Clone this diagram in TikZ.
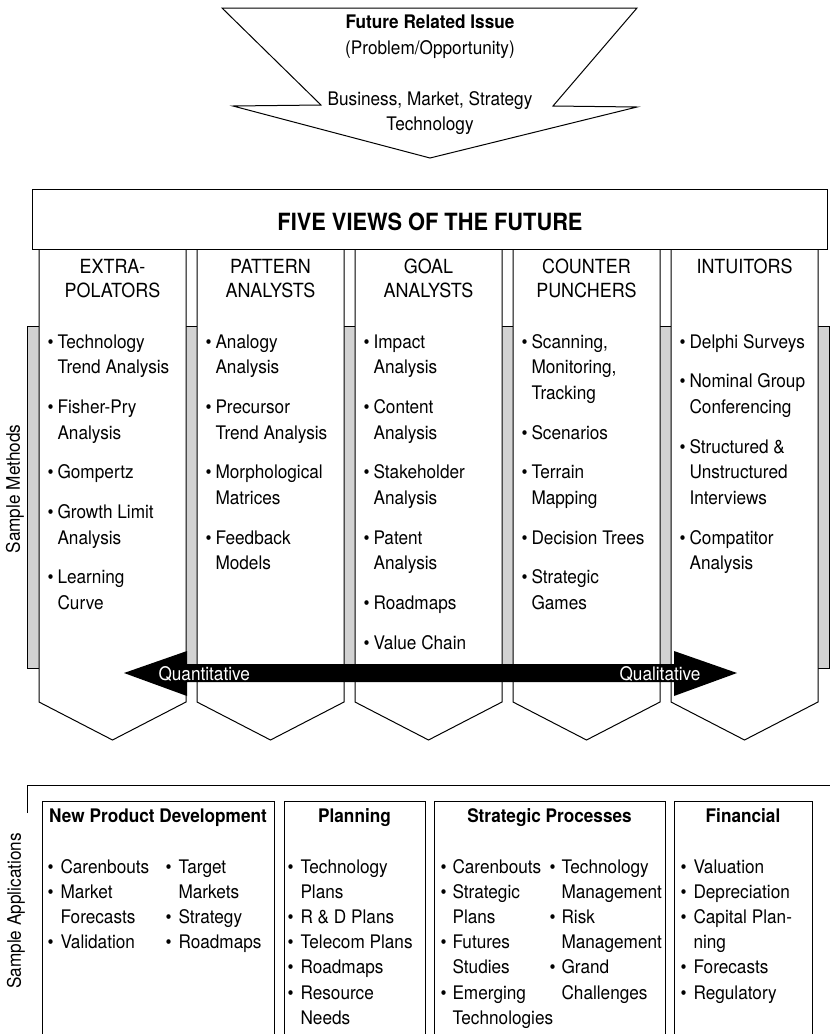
\documentclass[tikz,border=0pt]{standalone}
\usepackage{fontspec}
\setmainfont[FakeStretch=0.92]{TeX Gyre Heros}

\tikzset{
    colshape/.style={draw,fill=white},
    headtxt/.style={anchor=base,font=\fontsize{19.5}{24}\selectfont},
    methodlist/.style={anchor=base west,font=\fontsize{18.7}{25.7}\selectfont},
    applist/.style={anchor=base west,font=\fontsize{18.7}{25.2}\selectfont},
    boxhead/.style={anchor=base,font=\bfseries\fontsize{18.7}{22}\selectfont},
    sidetxt/.style={rotate=90,font=\fontsize{18.7}{22}\selectfont}
}

\begin{document}
\begin{tikzpicture}[x=1pt,y=-1pt,line width=1pt,
        every node/.style={inner sep=0pt,font=\fontsize{18.7}{25.7}\selectfont}]
        \useasboundingbox (0,0) rectangle (830,1034);

        \draw (222,8) -- (637,8) -- (553,106) -- (637,107) -- (430,158) -- (233,106) -- (321,105) -- cycle;
        \node[anchor=base,font=\bfseries\fontsize{18.7}{22}\selectfont] (issue) at (430,28) {Future Related Issue};
        \node[anchor=base] (problem) at (430,54) {(Problem/Opportunity)};
        \node[anchor=base] (business) at (430,105) {Business, Market, Strategy};
        \node[anchor=base] (techno) at (430,130) {Technology};

        \draw[fill=gray!35,line width=0.8pt] (27,326) rectangle (829,668);
        \node[sidetxt] (methods) at (15,489) {Sample Methods};

        \begin{scope}
        \draw[colshape] (39,249) -- (39,702) -- (112.5,740) -- (186,702) -- (186,249) -- cycle;
        \node[headtxt] (extraHead) at (112.5,273) {\begin{tabular}[t]{@{}c@{}}EXTRA-\\POLATORS\end{tabular}};
        \node[methodlist] (extraList) at (47,348) {\begin{tabular}[t]{@{}l@{\hspace{4pt}}l@{}}
            \textbullet & Technology\\ & Trend Analysis\\[14pt]
            \textbullet & Fisher-Pry\\ & Analysis\\[14pt]
            \textbullet & Gompertz\\[14pt]
            \textbullet & Growth Limit\\ & Analysis\\[14pt]
            \textbullet & Learning\\ & Curve
        \end{tabular}};
        \end{scope}

        \begin{scope}[xshift=158]
        \draw[colshape] (39,249) -- (39,702) -- (112.5,740) -- (186,702) -- (186,249) -- cycle;
        \node[headtxt] (patternHead) at (112.5,273) {\begin{tabular}[t]{@{}c@{}}PATTERN\\ANALYSTS\end{tabular}};
        \node[methodlist] (patternList) at (47,348) {\begin{tabular}[t]{@{}l@{\hspace{4pt}}l@{}}
            \textbullet & Analogy\\ & Analysis\\[14pt]
            \textbullet & Precursor\\ & Trend Analysis\\[14pt]
            \textbullet & Morphological\\ & Matrices\\[14pt]
            \textbullet & Feedback\\ & Models
        \end{tabular}};
        \end{scope}

        \begin{scope}[xshift=316]
        \draw[colshape] (39,249) -- (39,702) -- (112.5,740) -- (186,702) -- (186,249) -- cycle;
        \node[headtxt] (goalHead) at (112.5,273) {\begin{tabular}[t]{@{}c@{}}GOAL\\ANALYSTS\end{tabular}};
        \node[methodlist] (goalList) at (47,348) {\begin{tabular}[t]{@{}l@{\hspace{4pt}}l@{}}
            \textbullet & Impact\\ & Analysis\\[14pt]
            \textbullet & Content\\ & Analysis\\[14pt]
            \textbullet & Stakeholder\\ & Analysis\\[14pt]
            \textbullet & Patent\\ & Analysis\\[14pt]
            \textbullet & Roadmaps\\[14pt]
            \textbullet & Value Chain
        \end{tabular}};
        \end{scope}

        \begin{scope}[xshift=474]
        \draw[colshape] (39,249) -- (39,702) -- (112.5,740) -- (186,702) -- (186,249) -- cycle;
        \node[headtxt] (counterHead) at (112.5,273) {\begin{tabular}[t]{@{}c@{}}COUNTER\\PUNCHERS\end{tabular}};
        \node[methodlist] (counterList) at (47,348) {\begin{tabular}[t]{@{}l@{\hspace{4pt}}l@{}}
            \textbullet & Scanning,\\ & Monitoring,\\ & Tracking\\[14pt]
            \textbullet & Scenarios\\[14pt]
            \textbullet & Terrain\\ & Mapping\\[14pt]
            \textbullet & Decision Trees\\[14pt]
            \textbullet & Strategic\\ & Games
        \end{tabular}};
        \end{scope}

        \begin{scope}[xshift=632]
        \draw[colshape] (39,249) -- (39,702) -- (112.5,740) -- (186,702) -- (186,249) -- cycle;
        \node[headtxt] (intuitHead) at (112.5,273) {INTUITORS};
        \node[methodlist] (intuitList) at (47,348) {\begin{tabular}[t]{@{}l@{\hspace{4pt}}l@{}}
            \textbullet & Delphi Surveys\\[14pt]
            \textbullet & Nominal Group\\ & Conferencing\\[14pt]
            \textbullet & Structured \&\\ & Unstructured\\ & Interviews\\[14pt]
            \textbullet & Compatitor\\ & Analysis
        \end{tabular}};
        \end{scope}

        \draw[fill=white] (32,189) rectangle (827,249);
        \node[anchor=base,font=\bfseries\fontsize{23.7}{28}\selectfont] (title) at (430,230) {FIVE VIEWS OF THE FUTURE};

        \fill (124,673) -- (187,651) -- (187,664) -- (674,664) -- (674,651) -- (737,673) -- (674,696) -- (674,682) -- (187,682) -- (187,696) -- cycle;
        \node[anchor=base west,text=white] (quant) at (158,680) {Quantitative};
        \node[anchor=base east,text=white] (qual) at (701,680) {Qualitative};

        \draw (27,813) -- (27,785) -- (830,785);
        \node[sidetxt] (apps) at (16,911) {Sample Applications};

        \draw (42,1034) -- (42,801) -- (274,801) -- (274,1034);
        \node[boxhead] (npdHead) at (158,822) {New Product Development};
        \node[applist] (npdListA) at (47,873) {\begin{tabular}[t]{@{}l@{\hspace{7pt}}l@{}}
            \textbullet & Carenbouts\\
            \textbullet & Market\\ & Forecasts\\
            \textbullet & Validation
        \end{tabular}};
        \node[applist] (npdListB) at (165,873) {\begin{tabular}[t]{@{}l@{\hspace{7pt}}l@{}}
            \textbullet & Target\\ & Markets\\
            \textbullet & Strategy\\
            \textbullet & Roadmaps
        \end{tabular}};

        \draw (284,1034) -- (284,801) -- (425,801) -- (425,1034);
        \node[boxhead] (planHead) at (354.5,822) {Planning};
        \node[applist] (planList) at (287,873) {\begin{tabular}[t]{@{}l@{\hspace{7pt}}l@{}}
            \textbullet & Technology\\ & Plans\\
            \textbullet & R \& D Plans\\
            \textbullet & Telecom Plans\\
            \textbullet & Roadmaps\\
            \textbullet & Resource\\ & Needs
        \end{tabular}};

        \draw (434,1034) -- (434,801) -- (665,801) -- (665,1034);
        \node[boxhead] (stratHead) at (549.5,822) {Strategic Processes};
        \node[applist] (stratListA) at (440,873) {\begin{tabular}[t]{@{}l@{\hspace{6pt}}l@{}}
            \textbullet & Carenbouts\\
            \textbullet & Strategic\\ & Plans\\
            \textbullet & Futures\\ & Studies\\
            \textbullet & Emerging\\ & Technologies
        \end{tabular}};
        \node[applist] (stratListB) at (549,873) {\begin{tabular}[t]{@{}l@{\hspace{6pt}}l@{}}
            \textbullet & Technology\\ & Management\\
            \textbullet & Risk\\ & Management\\
            \textbullet & Grand\\ & Challenges
        \end{tabular}};

        \draw (674,1034) -- (674,801) -- (812,801) -- (812,1034);
        \node[boxhead] (finHead) at (743,822) {Financial};
        \node[applist] (finList) at (680,873) {\begin{tabular}[t]{@{}l@{\hspace{7pt}}l@{}}
            \textbullet & Valuation\\
            \textbullet & Depreciation\\
            \textbullet & Capital Plan-\\ & ning\\
            \textbullet & Forecasts\\
            \textbullet & Regulatory
        \end{tabular}};
      \end{tikzpicture}
\end{document}
